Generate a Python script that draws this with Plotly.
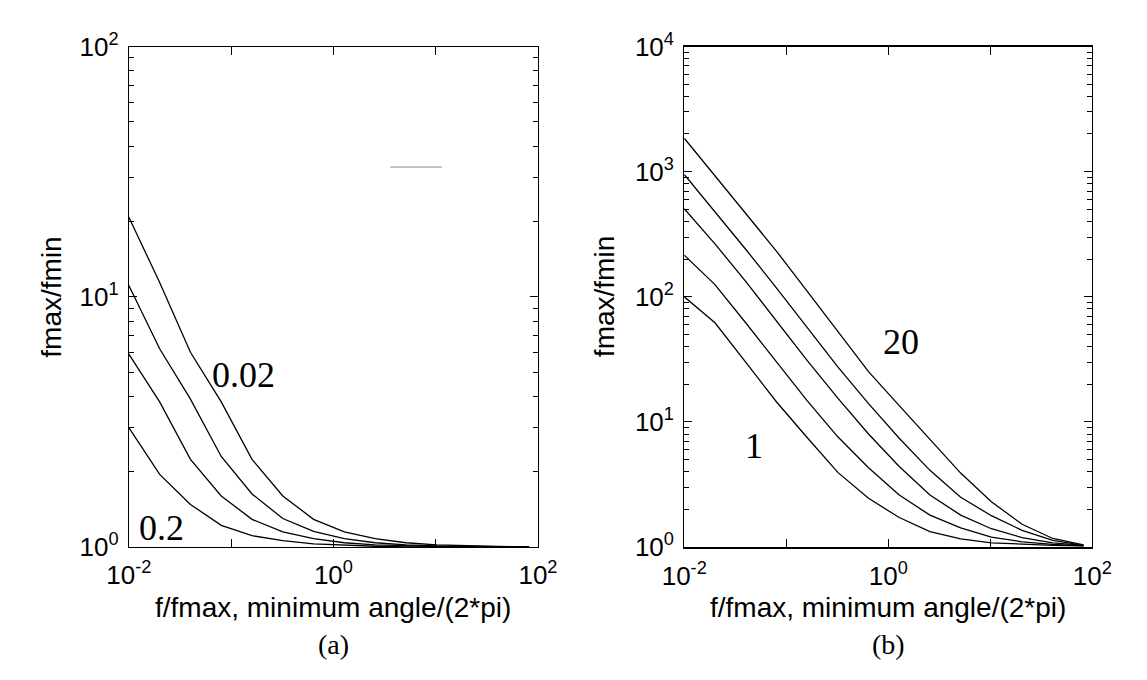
import plotly.graph_objects as go

# ---------------- data ----------------
x_grid = [0.01, 0.02, 0.04, 0.08, 0.16, 0.32, 0.64, 1.28, 2.56, 5.12, 10.24, 20.48, 40.96, 81.92]

# panel (a): four curves, top labelled 0.02, bottom labelled 0.2
a_curve_1 = [20.8, 11.4, 6.0, 3.8, 2.24, 1.60, 1.29, 1.15, 1.08, 1.04, 1.02, 1.01, 1.005, 1.0]
a_curve_2 = [11.1, 6.2, 3.9, 2.3, 1.63, 1.30, 1.155, 1.08, 1.04, 1.02, 1.01, 1.005, 1.0, 1.0]
a_curve_3 = [5.9, 3.8, 2.24, 1.6, 1.29, 1.15, 1.08, 1.04, 1.02, 1.01, 1.005, 1.0, 1.0, 1.0]
a_curve_4 = [3.0, 1.95, 1.48, 1.22, 1.11, 1.06, 1.03, 1.015, 1.007, 1.0, 1.0, 1.0, 1.0, 1.0]

# panel (b): five curves, top labelled 20, bottom labelled 1
b_curve_1 = [1850, 930, 465, 232, 111, 53, 25.2, 13.5, 7.2, 3.9, 2.3, 1.52, 1.17, 1.04]
b_curve_2 = [950, 480, 240, 118, 57, 27.5, 14.0, 7.4, 4.1, 2.5, 1.78, 1.36, 1.13, 1.03]
b_curve_3 = [505, 265, 133, 64, 31, 15.5, 8.0, 4.4, 2.6, 1.8, 1.40, 1.19, 1.08, 1.03]
b_curve_4 = [215, 125, 62, 30, 14.8, 7.6, 4.3, 2.6, 1.8, 1.42, 1.20, 1.10, 1.05, 1.02]
b_curve_5 = [100, 62, 30, 14.5, 7.5, 3.95, 2.45, 1.72, 1.33, 1.16, 1.08, 1.05, 1.03, 1.02]

# stray short grey segment in panel (a)
stray_x = [3.6, 11.5]
stray_y = [33.0, 33.0]

x_tickvals = [0.01, 1, 100]
x_ticktext = ["10<sup>-2</sup>", "10<sup>0</sup>", "10<sup>2</sup>"]
x_unlabelled_ticks = [0.1, 10]
ya_tickvals = [1, 10, 100]
ya_ticktext = ["10<sup>0</sup>", "10<sup>1</sup>", "10<sup>2</sup>"]
yb_tickvals = [1, 10, 100, 1000, 10000]
yb_ticktext = ["10<sup>0</sup>", "10<sup>1</sup>", "10<sup>2</sup>", "10<sup>3</sup>", "10<sup>4</sup>"]

x_title = "f/fmax, minimum angle/(2*pi)"
y_title = "fmax/fmin"

# ---------------- figure ----------------
fig = go.Figure()
line_style = dict(color="black", width=1.3)

for ys in [a_curve_1, a_curve_2, a_curve_3, a_curve_4]:
    fig.add_trace(go.Scatter(x=x_grid, y=ys, mode="lines", line=line_style,
                             xaxis="x", yaxis="y", showlegend=False, hoverinfo="skip"))
fig.add_trace(go.Scatter(x=stray_x, y=stray_y, mode="lines", line=dict(color="#8a8a8a", width=1),
                         xaxis="x", yaxis="y", showlegend=False, hoverinfo="skip"))
for ys in [b_curve_1, b_curve_2, b_curve_3, b_curve_4, b_curve_5]:
    fig.add_trace(go.Scatter(x=x_grid, y=ys, mode="lines", line=line_style,
                             xaxis="x2", yaxis="y2", showlegend=False, hoverinfo="skip"))

W, H = 1147, 680
def fx(px):
    return px / W
def fy(py):
    return 1 - py / H

LA = (110, 535)
RB = (687, 1111)
TOP, BOT = 30, 556

tickfont = dict(family="Liberation Sans, Arial, sans-serif", size=26, color="black")
common_x = dict(type="log", range=[-2, 2], tickvals=x_tickvals, ticktext=x_ticktext,
                ticks="inside", ticklen=8, tickwidth=1, tickcolor="black",
                minor=dict(tickvals=x_unlabelled_ticks, ticks="inside", ticklen=8,
                           tickcolor="black", showgrid=False),
                showline=True, linecolor="black", linewidth=1.2, mirror="ticks",
                showgrid=False, zeroline=False, tickfont=tickfont, ticklabelstandoff=5)
common_y = dict(type="log", ticks="inside", ticklen=8, tickwidth=1, tickcolor="black",
                showline=True, linecolor="black", linewidth=1.2, mirror="ticks",
                showgrid=False, zeroline=False, tickfont=tickfont, ticklabelstandoff=4)

minor_a = [2, 3, 4, 5, 6, 7, 8, 9, 20, 30, 40, 50, 60, 70, 80, 90]
minor_b = [m * d for d in [1, 10, 100, 1000] for m in [2, 3, 4, 5, 6, 7, 8, 9]]

fig.update_layout(
    width=W, height=H, margin=dict(l=0, r=0, t=0, b=0),
    paper_bgcolor="white", plot_bgcolor="white",
    xaxis=dict(domain=[fx(LA[0]), fx(LA[1])], anchor="y", **common_x),
    yaxis=dict(domain=[fy(BOT), fy(TOP)], anchor="x", range=[0, 2],
               tickvals=ya_tickvals, ticktext=ya_ticktext,
               minor=dict(tickvals=minor_a, ticks="inside", ticklen=5, tickcolor="black", showgrid=False),
               **common_y),
    xaxis2=dict(domain=[fx(RB[0]), fx(RB[1])], anchor="y2", **{**common_x, "linewidth": 2}),
    yaxis2=dict(domain=[fy(BOT), fy(TOP)], anchor="x2", range=[0, 4],
                tickvals=yb_tickvals, ticktext=yb_ticktext,
                minor=dict(tickvals=minor_b, ticks="inside", ticklen=5, tickcolor="black", showgrid=False),
                **common_y),
)

title_font = dict(family="Liberation Sans, Arial, sans-serif", size=28, color="black")
serif_big = dict(family="Liberation Serif, Times New Roman, serif", size=36, color="black")
serif_cap = dict(family="Liberation Serif, Times New Roman, serif", size=28, color="black")

ann = []
for (l, r), cap, ytx in [(LA, "(a)", 30), (RB, "(b)", 604)]:
    cx = fx((l + r) / 2)
    ann.append(dict(x=cx, y=fy(620), xref="paper", yref="paper", text=x_title, showarrow=False,
                    font=title_font, xanchor="center", yanchor="middle"))
    ann.append(dict(x=cx, y=fy(658), xref="paper", yref="paper", text=cap, showarrow=False,
                    font=serif_cap, xanchor="center", yanchor="middle"))
    ann.append(dict(x=fx(ytx), y=fy((TOP + BOT) / 2), xref="paper", yref="paper", text=y_title,
                    showarrow=False, font=title_font, textangle=-90, xanchor="center", yanchor="middle"))

# curve labels in data coordinates (log10 units)
ann.append(dict(x=-0.88, y=0.686, xref="x", yref="y", text="0.02", showarrow=False, font=serif_big))
ann.append(dict(x=-1.68, y=0.077, xref="x", yref="y", text="0.2", showarrow=False, font=serif_big))
ann.append(dict(x=0.12, y=1.635, xref="x2", yref="y2", text="20", showarrow=False, font=serif_big))
ann.append(dict(x=-1.315, y=0.806, xref="x2", yref="y2", text="1", showarrow=False, font=serif_big))
fig.update_layout(annotations=ann)

fig.write_html("out.html")
